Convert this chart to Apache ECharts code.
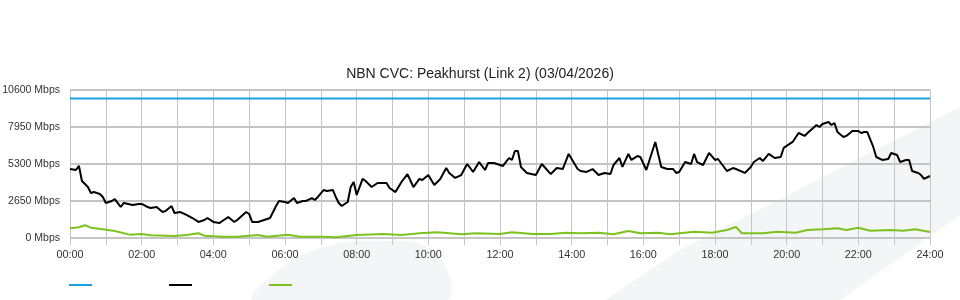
<!DOCTYPE html>
<html><head><meta charset="utf-8">
<script src="https://cdn.jsdelivr.net/npm/echarts@6/dist/echarts.min.js"></script>
<style>html,body{margin:0;padding:0;background:#fff}#c{width:960px;height:300px}</style>
</head><body><div id="c"></div>
<script>
const titleText = 'NBN CVC: Peakhurst (Link 2) (03/04/2026)';
const yTicks = [0, 2650, 5300, 7950, 10600];
// minutes since midnight
const capTimes = [0, 1440];
const capValues = [10000, 10000];
const dlTimes = [0,10,15,20,30,35,40,50,55,60,70,75,85,90,105,115,120,130,135,145,155,160,170,175,185,195,205,215,225,230,240,250,255,265,275,280,295,300,305,315,325,335,345,350,360,365,375,380,390,395,405,410,415,425,430,440,445,450,455,465,470,475,480,490,495,505,515,525,530,535,545,555,565,575,585,590,600,610,620,630,635,645,655,665,675,685,695,700,710,720,725,735,740,745,750,755,765,780,790,805,815,825,835,850,855,865,875,885,895,905,910,920,925,935,940,950,955,965,980,990,1000,1010,1015,1020,1030,1040,1045,1050,1060,1070,1080,1085,1100,1110,1115,1130,1140,1145,1155,1160,1170,1180,1190,1195,1210,1220,1230,1235,1250,1255,1260,1270,1275,1280,1285,1295,1300,1310,1320,1325,1330,1335,1345,1350,1360,1370,1375,1385,1390,1400,1405,1410,1420,1425,1430,1440];
const dlValues = [4940,4870,5160,4080,3650,3220,3290,3150,2940,2510,2650,2790,2220,2510,2360,2440,2440,2220,2150,2220,1860,1930,2290,1790,1860,1650,1430,1150,1290,1430,1150,1070,1220,1500,1150,1290,1860,1720,1150,1150,1290,1430,2290,2650,2580,2510,2860,2510,2650,2650,2860,2720,2940,3440,3370,3440,2940,2510,2290,2580,3650,4010,3080,4230,4080,3650,3940,3940,3940,3580,3290,4010,4580,3650,4230,4150,4510,3800,4230,5010,4660,4300,4510,5300,4730,5440,4870,5370,5370,5230,5160,5730,5590,6230,6230,5090,4660,4510,5300,4580,5010,4940,6020,4940,4800,4730,4940,4510,4660,4580,5230,5730,5090,6020,5590,5870,5800,4870,6880,5090,4940,4940,4660,4730,5440,5300,6020,5440,5230,6090,5590,5660,4800,5010,4940,4660,5090,5440,5730,5510,6020,5730,5800,6450,6880,7520,7310,7520,8090,7950,8160,8310,8090,8240,7590,7230,7310,7660,7660,7520,7590,7590,6520,5800,5590,5660,6090,5940,5440,5590,5590,4800,4660,4510,4230,4440];
const ulTimes = [0,15,25,35,55,75,100,120,135,175,195,215,225,255,280,315,330,365,385,425,445,480,525,555,585,615,655,680,720,740,775,805,830,855,885,910,935,955,985,1005,1045,1075,1100,1115,1125,1160,1185,1215,1235,1260,1285,1300,1320,1340,1375,1395,1415,1440];
const ulValues = [690,770,910,740,620,500,240,290,190,140,215,340,165,95,95,215,95,240,95,95,50,215,290,215,340,410,265,340,290,410,290,290,380,340,380,265,500,340,380,265,450,380,575,790,340,340,450,380,575,625,695,575,740,520,575,520,625,430];

const zip = (t, v) => t.map((x, i) => [x, v[i]]);
const pad = n => (n < 10 ? '0' : '') + n;

const chart = echarts.init(document.getElementById('c'), null, {renderer: 'canvas'});
const gridColor = '#c6c6c6';
const legendBase = {top: 284, padding: 0, icon: 'rect', itemWidth: 23, itemHeight: 2, formatter: () => '', selectedMode: false, textStyle: {fontSize: 1}};
chart.setOption({
  animation: false,
  backgroundColor: '#fff',
  graphic: [
    {type: 'polygon', z: -10, silent: true, shape: {points: [[605,300],[680,250],[960,107],[960,215],[840,300]]}, style: {fill: '#f4f5f7'}},
    {type: 'polygon', z: -10, silent: true, shape: {smooth: 0.3, points: [[253,300],[290,262],[335,244],[375,241],[413,242],[435,252],[448,272],[452,290],[446,300]]}, style: {fill: '#f4f5f7'}}
  ],
  title: {text: titleText, left: 'center', top: 62, textStyle: {fontFamily: 'Liberation Sans, Arial, sans-serif', fontSize: 14, fontWeight: 'normal', color: '#222'}},
  legend: [
    Object.assign({left: 69, data: ['Capacity']}, legendBase),
    Object.assign({left: 169, data: ['Download']}, legendBase),
    Object.assign({left: 269, data: ['Upload']}, legendBase)
  ],
  grid: {left: 70, right: 30, top: 90, bottom: 62, containLabel: false, outerBoundsMode: 'none'},
  xAxis: {
    type: 'value', min: 0, max: 1440, interval: 120,
    axisLine: {show: true, lineStyle: {color: gridColor, width: 1}},
    axisTick: {show: true, length: 7, lineStyle: {color: gridColor}},
    minorTick: {show: true, splitNumber: 2, length: 7, lineStyle: {color: gridColor}},
    splitLine: {show: true, lineStyle: {color: gridColor, width: 1}},
    minorSplitLine: {show: true, lineStyle: {color: gridColor, width: 1}},
    axisLabel: {margin: 12, fontFamily: 'Liberation Sans, Arial, sans-serif', fontSize: 10.8, color: '#333', formatter: v => pad(Math.floor(v / 60)) + ':00'}
  },
  yAxis: {
    type: 'value', min: yTicks[0], max: yTicks[yTicks.length - 1], interval: 2650,
    axisLine: {show: false}, axisTick: {show: false},
    splitLine: {show: true, lineStyle: {color: '#c4c4c4', width: 2}},
    axisLabel: {margin: 10, fontFamily: 'Liberation Sans, Arial, sans-serif', fontSize: 10.5, color: '#333', formatter: v => v + ' Mbps'}
  },
  series: [
    {name: 'Capacity', type: 'line', data: zip(capTimes, capValues), showSymbol: false, color: '#1b9fe0', lineStyle: {width: 2, color: '#1b9fe0'}},
    {name: 'Download', type: 'line', data: zip(dlTimes, dlValues), showSymbol: false, color: '#000', lineStyle: {width: 2, color: '#000'}},
    {name: 'Upload', type: 'line', data: zip(ulTimes, ulValues), showSymbol: false, color: '#7cc21f', lineStyle: {width: 2, color: '#7cc21f'}}
  ]
});
</script></body></html>
